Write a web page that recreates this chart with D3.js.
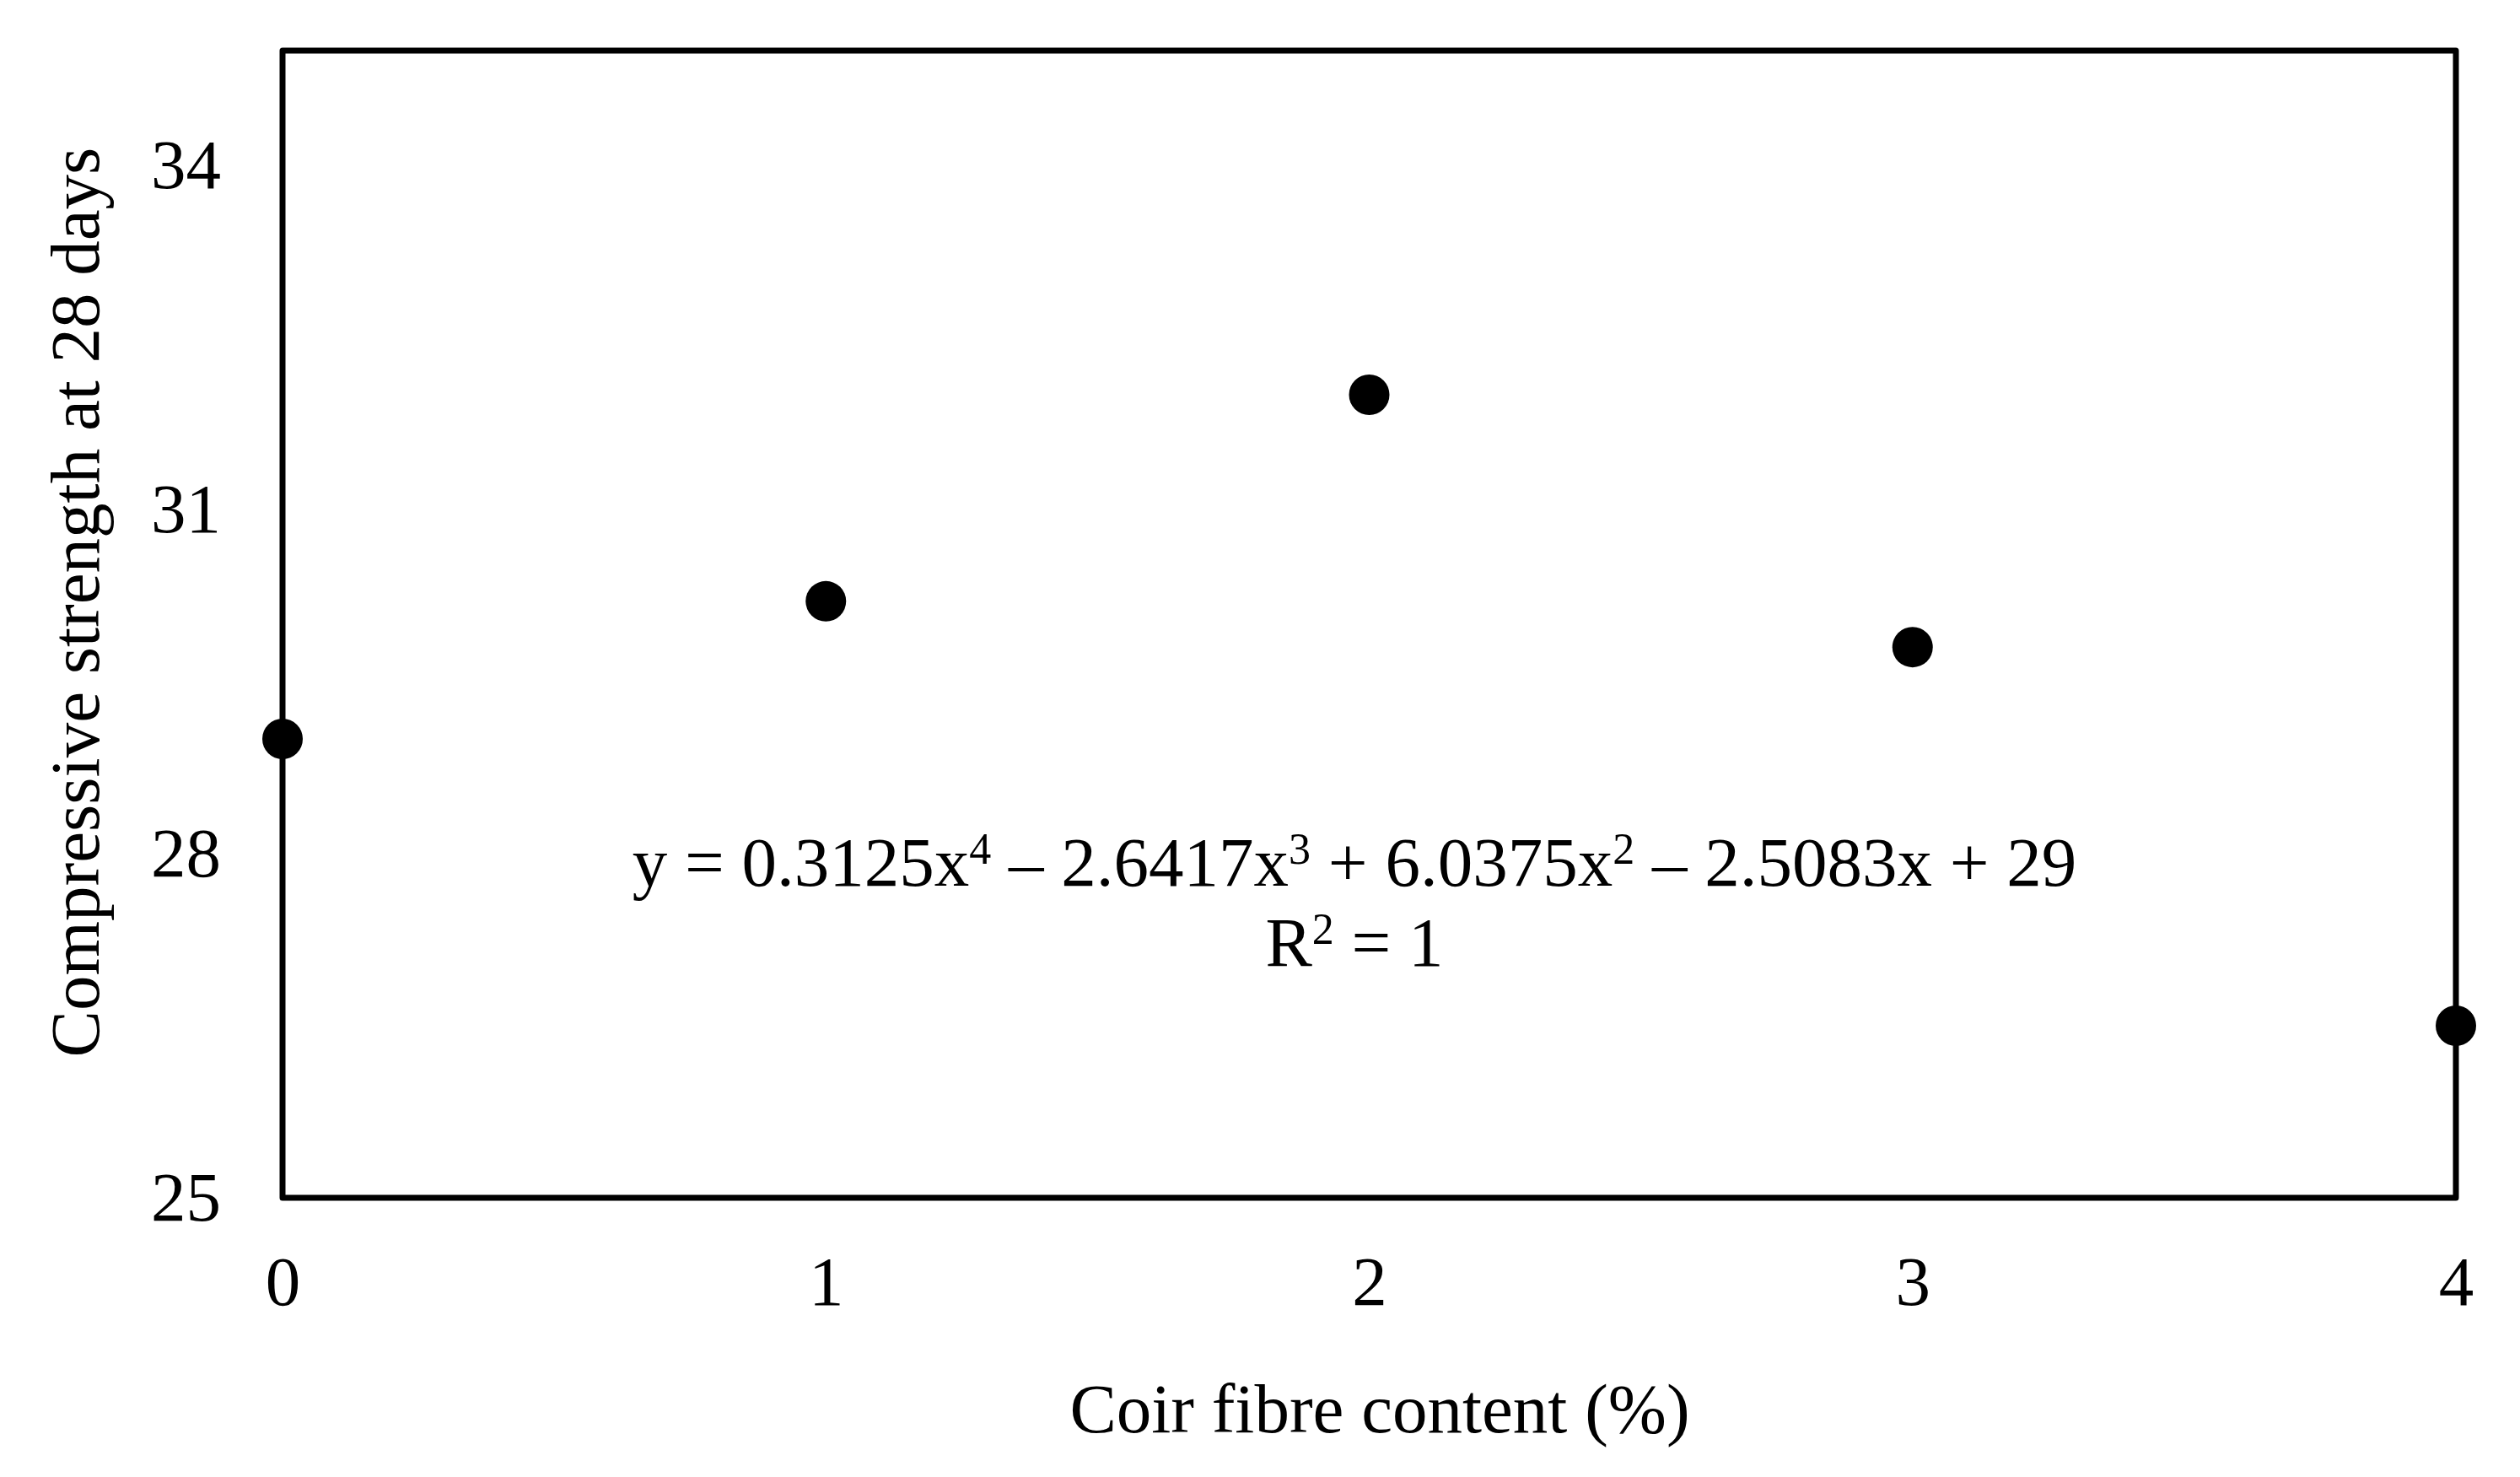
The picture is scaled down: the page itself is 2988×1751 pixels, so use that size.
<!DOCTYPE html>
<html>
<head>
<meta charset="utf-8">
<script src="https://cdn.jsdelivr.net/npm/d3@7"></script>
<style>
  body { margin: 0; background: #fff; }
  svg { display: block; }
</style>
</head>
<body>
<svg width="2988" height="1751"></svg>
<script>
// fibre content (%) and 28-day compressive strength
const fibre = [0, 1, 2, 3, 4];
const strength = [29.0, 30.2, 32.0, 29.8, 26.5];
const xTicks = [0, 1, 2, 3, 4];
const yTicks = [25, 28, 31, 34];

const svg = d3.select("svg");
const W = +svg.attr("width"), H = +svg.attr("height");
svg.append("rect").attr("width", W).attr("height", H).attr("fill", "#fff");

const plotL = 335, plotR = 2912, plotT = 60, plotB = 1420;
const font = "'Liberation Serif', 'Times New Roman', serif";
const fs = 83;

// scales
const x = d3.scaleLinear().domain([0, 4]).range([plotL, plotR]);
const y = d3.scaleLinear().domain([25, 35]).range([plotB, plotT]);

// y axis labels
const yAxis = svg.append("g")
    .attr("transform", "translate(" + plotL + ",0)")
    .call(d3.axisLeft(y).tickValues(yTicks).tickSize(0).tickPadding(73));
yAxis.select(".domain").remove();
yAxis.selectAll("text").attr("font-family", font).attr("font-size", fs).attr("fill", "#000");

// x axis labels
const xAxis = svg.append("g")
    .attr("transform", "translate(0," + plotB + ")")
    .call(d3.axisBottom(x).tickValues(xTicks).tickFormat(d3.format("d")).tickSize(0).tickPadding(68));
xAxis.select(".domain").remove();
xAxis.selectAll("text").attr("font-family", font).attr("font-size", fs).attr("fill", "#000");

// plot frame
svg.append("rect")
    .attr("x", plotL).attr("y", plotT)
    .attr("width", plotR - plotL).attr("height", plotB - plotT)
    .attr("fill", "none")
    .attr("stroke", "#000")
    .attr("stroke-width", 7)
    .attr("stroke-linejoin", "round");

// points
svg.selectAll("circle.pt")
    .data(fibre.map((f, i) => ({f: f, s: strength[i]})))
    .enter()
    .append("circle")
    .attr("class", "pt")
    .attr("cx", d => x(d.f))
    .attr("cy", d => y(d.s))
    .attr("r", 24)
    .attr("fill", "#000");

// text with superscripts: [text, isSup]
function richText(xPos, yPos, pieces) {
  const t = svg.append("text")
      .attr("x", xPos).attr("y", yPos)
      .attr("text-anchor", "middle")
      .attr("font-family", font).attr("font-size", fs);
  let raised = false;
  pieces.forEach(p => {
    const sp = t.append("tspan").text(p[0]);
    if (p[1]) { sp.attr("font-size", 52).attr("dy", -26); raised = true; }
    else if (raised) { sp.attr("dy", 26); raised = false; }
  });
  return t;
}

// trendline label
richText(1606, 1050, [
  ["y = 0.3125x", false], ["4", true],
  [" – 2.6417x", false], ["3", true],
  [" + 6.0375x", false], ["2", true],
  [" – 2.5083x + 29", false]
]);
richText(1606, 1145, [["R", false], ["2", true], [" = 1", false]]);

// axis titles
svg.append("text")
    .attr("x", 1636).attr("y", 1698)
    .attr("text-anchor", "middle")
    .attr("font-family", font).attr("font-size", fs)
    .text("Coir fibre content (%)");

svg.append("text")
    .attr("transform", "rotate(-90)")
    .attr("x", -714).attr("y", 117)
    .attr("text-anchor", "middle")
    .attr("font-family", font).attr("font-size", fs)
    .text("Compressive strength at 28 days");
</script>
</body>
</html>
